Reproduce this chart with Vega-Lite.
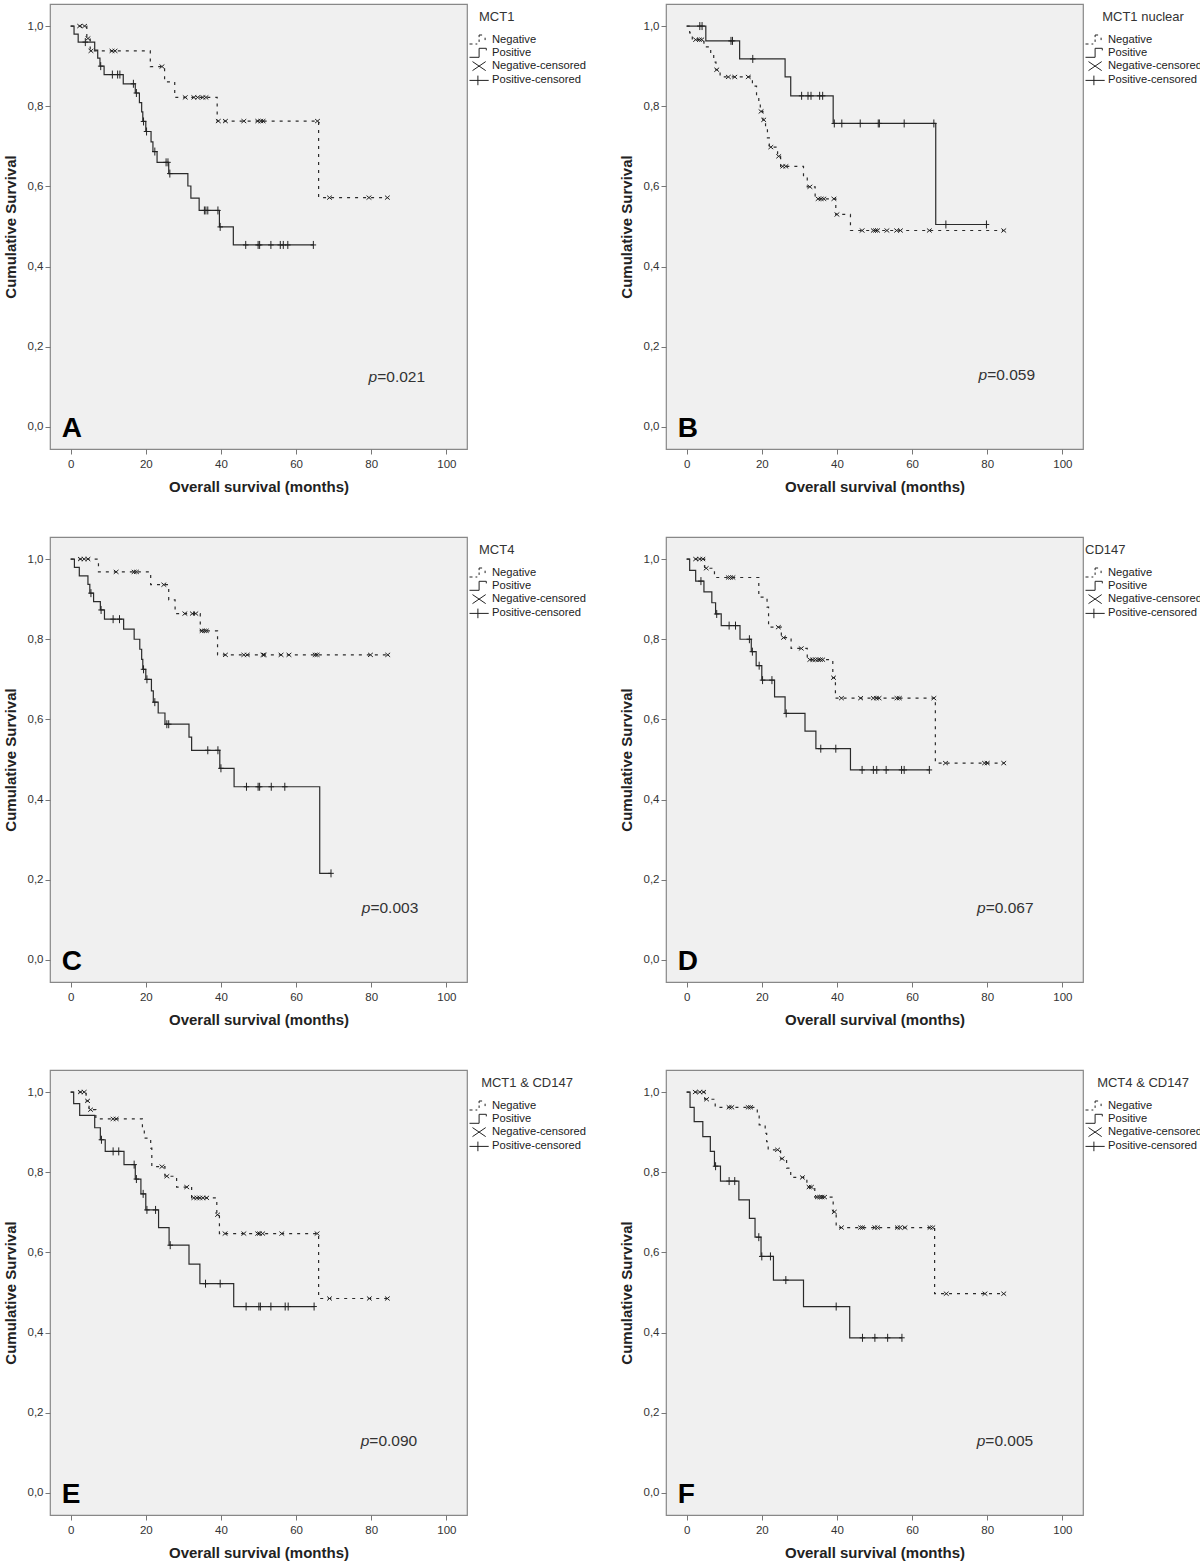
{
"$schema": "https://vega.github.io/schema/vega-lite/v6.json",
"padding": {"left": 2, "top": 3, "right": 0, "bottom": 0},
"background": "#ffffff",
"config": {
 "font": "Liberation Sans",
 "view": {"fill": "#f0f0f0", "stroke": "#888888", "strokeWidth": 1.2},
 "axis": {"grid": false, "domain": false, "ticks": true, "tickSize": 5, "tickColor": "#777777", "labelFontSize": 11.5, "labelColor": "#333333", "labelFont": "Liberation Sans", "titleFont": "Liberation Sans", "titleFontSize": 15, "titleFontWeight": "bold", "titleColor": "#222222"},
 "axisX": {"labelPadding": 4, "titlePadding": 10, "labelFlush": false},
 "axisY": {"labelPadding": 2, "titlePadding": 9},
 "legend": {"orient": "right", "offset": -5, "padding": 7, "titleFontSize": 13, "titleFontWeight": "normal", "titleColor": "#333333", "titlePadding": 9, "labelFontSize": 11.2, "labelColor": "#222222", "labelOffset": 10, "symbolSize": 144, "rowPadding": 0.3, "symbolStrokeWidth": 1}
},
"datasets": {
 "ann": [
  {"p": "A", "lab": "A", "pv": "=0.021"},
  {"p": "B", "lab": "B", "pv": "=0.059"},
  {"p": "C", "lab": "C", "pv": "=0.003"},
  {"p": "D", "lab": "D", "pv": "=0.067"},
  {"p": "E", "lab": "E", "pv": "=0.090"},
  {"p": "F", "lab": "F", "pv": "=0.005"}
 ],
 "km": [
  {"p":"A","g":"Negative","t":0,"s":1,"st":"Negative"},
  {"p":"A","g":"Negative","t":2.4,"s":1,"st":"Negative-censored"},
  {"p":"A","g":"Negative","t":3.7,"s":1,"st":"Negative-censored"},
  {"p":"A","g":"Negative","t":4.3,"s":0.969,"st":"Negative"},
  {"p":"A","g":"Negative","t":4.6,"s":0.969,"st":"Negative-censored"},
  {"p":"A","g":"Negative","t":5.2,"s":0.938,"st":"Negative"},
  {"p":"A","g":"Negative","t":5.4,"s":0.938,"st":"Negative-censored"},
  {"p":"A","g":"Negative","t":11.0,"s":0.938,"st":"Negative-censored"},
  {"p":"A","g":"Negative","t":11.8,"s":0.938,"st":"Negative-censored"},
  {"p":"A","g":"Negative","t":21.2,"s":0.899,"st":"Negative"},
  {"p":"A","g":"Negative","t":24.3,"s":0.899,"st":"Negative-censored"},
  {"p":"A","g":"Negative","t":25.0,"s":0.861,"st":"Negative"},
  {"p":"A","g":"Negative","t":27.7,"s":0.822,"st":"Negative"},
  {"p":"A","g":"Negative","t":30.5,"s":0.822,"st":"Negative-censored"},
  {"p":"A","g":"Negative","t":32.8,"s":0.822,"st":"Negative-censored"},
  {"p":"A","g":"Negative","t":33.8,"s":0.822,"st":"Negative-censored"},
  {"p":"A","g":"Negative","t":35.2,"s":0.822,"st":"Negative-censored"},
  {"p":"A","g":"Negative","t":36.0,"s":0.822,"st":"Negative-censored"},
  {"p":"A","g":"Negative","t":39.0,"s":0.763,"st":"Negative"},
  {"p":"A","g":"Negative","t":39.3,"s":0.763,"st":"Negative-censored"},
  {"p":"A","g":"Negative","t":41.2,"s":0.763,"st":"Negative-censored"},
  {"p":"A","g":"Negative","t":46.1,"s":0.763,"st":"Negative-censored"},
  {"p":"A","g":"Negative","t":49.8,"s":0.763,"st":"Negative-censored"},
  {"p":"A","g":"Negative","t":50.6,"s":0.763,"st":"Negative-censored"},
  {"p":"A","g":"Negative","t":51.2,"s":0.763,"st":"Negative-censored"},
  {"p":"A","g":"Negative","t":65.7,"s":0.763,"st":"Negative-censored"},
  {"p":"A","g":"Negative","t":66.0,"s":0.572,"st":"Negative"},
  {"p":"A","g":"Negative","t":68.9,"s":0.572,"st":"Negative-censored"},
  {"p":"A","g":"Negative","t":79.4,"s":0.572,"st":"Negative-censored"},
  {"p":"A","g":"Negative","t":84.3,"s":0.572,"st":"Negative-censored"},
  {"p":"A","g":"Positive","t":0,"s":1,"st":"Positive"},
  {"p":"A","g":"Positive","t":0.9,"s":0.98,"st":"Positive"},
  {"p":"A","g":"Positive","t":2.0,"s":0.96,"st":"Positive"},
  {"p":"A","g":"Positive","t":3.9,"s":0.96,"st":"Positive-censored"},
  {"p":"A","g":"Positive","t":6.4,"s":0.94,"st":"Positive"},
  {"p":"A","g":"Positive","t":7.2,"s":0.92,"st":"Positive"},
  {"p":"A","g":"Positive","t":7.8,"s":0.9,"st":"Positive"},
  {"p":"A","g":"Positive","t":8.0,"s":0.9,"st":"Positive-censored"},
  {"p":"A","g":"Positive","t":8.9,"s":0.879,"st":"Positive"},
  {"p":"A","g":"Positive","t":11.1,"s":0.879,"st":"Positive-censored"},
  {"p":"A","g":"Positive","t":12.5,"s":0.879,"st":"Positive-censored"},
  {"p":"A","g":"Positive","t":13.1,"s":0.879,"st":"Positive-censored"},
  {"p":"A","g":"Positive","t":14.0,"s":0.856,"st":"Positive"},
  {"p":"A","g":"Positive","t":16.7,"s":0.856,"st":"Positive-censored"},
  {"p":"A","g":"Positive","t":17.2,"s":0.833,"st":"Positive"},
  {"p":"A","g":"Positive","t":17.5,"s":0.833,"st":"Positive-censored"},
  {"p":"A","g":"Positive","t":18.3,"s":0.809,"st":"Positive"},
  {"p":"A","g":"Positive","t":18.9,"s":0.786,"st":"Positive"},
  {"p":"A","g":"Positive","t":19.2,"s":0.762,"st":"Positive"},
  {"p":"A","g":"Positive","t":19.4,"s":0.762,"st":"Positive-censored"},
  {"p":"A","g":"Positive","t":20.0,"s":0.737,"st":"Positive"},
  {"p":"A","g":"Positive","t":20.2,"s":0.737,"st":"Positive-censored"},
  {"p":"A","g":"Positive","t":21.4,"s":0.711,"st":"Positive"},
  {"p":"A","g":"Positive","t":21.9,"s":0.687,"st":"Positive"},
  {"p":"A","g":"Positive","t":22.4,"s":0.687,"st":"Positive-censored"},
  {"p":"A","g":"Positive","t":23.0,"s":0.66,"st":"Positive"},
  {"p":"A","g":"Positive","t":25.4,"s":0.66,"st":"Positive-censored"},
  {"p":"A","g":"Positive","t":25.9,"s":0.66,"st":"Positive-censored"},
  {"p":"A","g":"Positive","t":26.1,"s":0.632,"st":"Positive"},
  {"p":"A","g":"Positive","t":26.4,"s":0.632,"st":"Positive-censored"},
  {"p":"A","g":"Positive","t":31.2,"s":0.601,"st":"Positive"},
  {"p":"A","g":"Positive","t":32.0,"s":0.571,"st":"Positive"},
  {"p":"A","g":"Positive","t":34.2,"s":0.54,"st":"Positive"},
  {"p":"A","g":"Positive","t":35.6,"s":0.54,"st":"Positive-censored"},
  {"p":"A","g":"Positive","t":36.0,"s":0.54,"st":"Positive-censored"},
  {"p":"A","g":"Positive","t":36.5,"s":0.54,"st":"Positive-censored"},
  {"p":"A","g":"Positive","t":39.2,"s":0.54,"st":"Positive-censored"},
  {"p":"A","g":"Positive","t":39.6,"s":0.499,"st":"Positive"},
  {"p":"A","g":"Positive","t":39.8,"s":0.499,"st":"Positive-censored"},
  {"p":"A","g":"Positive","t":43.3,"s":0.454,"st":"Positive"},
  {"p":"A","g":"Positive","t":46.6,"s":0.454,"st":"Positive-censored"},
  {"p":"A","g":"Positive","t":49.9,"s":0.454,"st":"Positive-censored"},
  {"p":"A","g":"Positive","t":50.3,"s":0.454,"st":"Positive-censored"},
  {"p":"A","g":"Positive","t":53.3,"s":0.454,"st":"Positive-censored"},
  {"p":"A","g":"Positive","t":55.8,"s":0.454,"st":"Positive-censored"},
  {"p":"A","g":"Positive","t":56.6,"s":0.454,"st":"Positive-censored"},
  {"p":"A","g":"Positive","t":57.8,"s":0.454,"st":"Positive-censored"},
  {"p":"A","g":"Positive","t":64.6,"s":0.454,"st":"Positive-censored"},

  {"p":"B","g":"Negative","t":0,"s":1,"st":"Negative"},
  {"p":"B","g":"Negative","t":0.8,"s":0.983,"st":"Negative"},
  {"p":"B","g":"Negative","t":1.5,"s":0.966,"st":"Negative"},
  {"p":"B","g":"Negative","t":2.4,"s":0.966,"st":"Negative-censored"},
  {"p":"B","g":"Negative","t":3.4,"s":0.966,"st":"Negative-censored"},
  {"p":"B","g":"Negative","t":4.0,"s":0.966,"st":"Negative-censored"},
  {"p":"B","g":"Negative","t":4.6,"s":0.948,"st":"Negative"},
  {"p":"B","g":"Negative","t":6.4,"s":0.929,"st":"Negative"},
  {"p":"B","g":"Negative","t":7.2,"s":0.91,"st":"Negative"},
  {"p":"B","g":"Negative","t":7.8,"s":0.891,"st":"Negative"},
  {"p":"B","g":"Negative","t":8.0,"s":0.891,"st":"Negative-censored"},
  {"p":"B","g":"Negative","t":8.9,"s":0.873,"st":"Negative"},
  {"p":"B","g":"Negative","t":11.1,"s":0.873,"st":"Negative-censored"},
  {"p":"B","g":"Negative","t":12.8,"s":0.873,"st":"Negative-censored"},
  {"p":"B","g":"Negative","t":16.4,"s":0.873,"st":"Negative-censored"},
  {"p":"B","g":"Negative","t":17.5,"s":0.85,"st":"Negative"},
  {"p":"B","g":"Negative","t":18.6,"s":0.827,"st":"Negative"},
  {"p":"B","g":"Negative","t":19.2,"s":0.808,"st":"Negative"},
  {"p":"B","g":"Negative","t":19.6,"s":0.787,"st":"Negative"},
  {"p":"B","g":"Negative","t":19.8,"s":0.787,"st":"Negative-censored"},
  {"p":"B","g":"Negative","t":20.3,"s":0.766,"st":"Negative"},
  {"p":"B","g":"Negative","t":20.5,"s":0.766,"st":"Negative-censored"},
  {"p":"B","g":"Negative","t":21.0,"s":0.745,"st":"Negative"},
  {"p":"B","g":"Negative","t":21.5,"s":0.721,"st":"Negative"},
  {"p":"B","g":"Negative","t":22.0,"s":0.698,"st":"Negative"},
  {"p":"B","g":"Negative","t":22.4,"s":0.698,"st":"Negative-censored"},
  {"p":"B","g":"Negative","t":24.2,"s":0.675,"st":"Negative"},
  {"p":"B","g":"Negative","t":24.5,"s":0.675,"st":"Negative-censored"},
  {"p":"B","g":"Negative","t":25.0,"s":0.65,"st":"Negative"},
  {"p":"B","g":"Negative","t":25.6,"s":0.65,"st":"Negative-censored"},
  {"p":"B","g":"Negative","t":26.4,"s":0.65,"st":"Negative-censored"},
  {"p":"B","g":"Negative","t":31.1,"s":0.623,"st":"Negative"},
  {"p":"B","g":"Negative","t":32.1,"s":0.599,"st":"Negative"},
  {"p":"B","g":"Negative","t":32.8,"s":0.599,"st":"Negative-censored"},
  {"p":"B","g":"Negative","t":34.2,"s":0.569,"st":"Negative"},
  {"p":"B","g":"Negative","t":35.0,"s":0.569,"st":"Negative-censored"},
  {"p":"B","g":"Negative","t":35.8,"s":0.569,"st":"Negative-censored"},
  {"p":"B","g":"Negative","t":36.5,"s":0.569,"st":"Negative-censored"},
  {"p":"B","g":"Negative","t":39.2,"s":0.569,"st":"Negative-censored"},
  {"p":"B","g":"Negative","t":39.7,"s":0.53,"st":"Negative"},
  {"p":"B","g":"Negative","t":40.0,"s":0.53,"st":"Negative-censored"},
  {"p":"B","g":"Negative","t":43.6,"s":0.49,"st":"Negative"},
  {"p":"B","g":"Negative","t":46.7,"s":0.49,"st":"Negative-censored"},
  {"p":"B","g":"Negative","t":49.7,"s":0.49,"st":"Negative-censored"},
  {"p":"B","g":"Negative","t":50.3,"s":0.49,"st":"Negative-censored"},
  {"p":"B","g":"Negative","t":50.8,"s":0.49,"st":"Negative-censored"},
  {"p":"B","g":"Negative","t":53.3,"s":0.49,"st":"Negative-censored"},
  {"p":"B","g":"Negative","t":55.9,"s":0.49,"st":"Negative-censored"},
  {"p":"B","g":"Negative","t":56.9,"s":0.49,"st":"Negative-censored"},
  {"p":"B","g":"Negative","t":64.6,"s":0.49,"st":"Negative-censored"},
  {"p":"B","g":"Negative","t":84.4,"s":0.49,"st":"Negative-censored"},
  {"p":"B","g":"Positive","t":0,"s":1,"st":"Positive"},
  {"p":"B","g":"Positive","t":3.5,"s":1,"st":"Positive-censored"},
  {"p":"B","g":"Positive","t":4.1,"s":1,"st":"Positive-censored"},
  {"p":"B","g":"Positive","t":5.1,"s":0.963,"st":"Positive"},
  {"p":"B","g":"Positive","t":11.8,"s":0.963,"st":"Positive-censored"},
  {"p":"B","g":"Positive","t":12.2,"s":0.963,"st":"Positive-censored"},
  {"p":"B","g":"Positive","t":14.1,"s":0.918,"st":"Positive"},
  {"p":"B","g":"Positive","t":17.6,"s":0.918,"st":"Positive-censored"},
  {"p":"B","g":"Positive","t":26.2,"s":0.873,"st":"Positive"},
  {"p":"B","g":"Positive","t":27.7,"s":0.826,"st":"Positive"},
  {"p":"B","g":"Positive","t":30.6,"s":0.826,"st":"Positive-censored"},
  {"p":"B","g":"Positive","t":32.3,"s":0.826,"st":"Positive-censored"},
  {"p":"B","g":"Positive","t":33.1,"s":0.826,"st":"Positive-censored"},
  {"p":"B","g":"Positive","t":35.4,"s":0.826,"st":"Positive-censored"},
  {"p":"B","g":"Positive","t":36.2,"s":0.826,"st":"Positive-censored"},
  {"p":"B","g":"Positive","t":39.0,"s":0.757,"st":"Positive"},
  {"p":"B","g":"Positive","t":39.3,"s":0.757,"st":"Positive-censored"},
  {"p":"B","g":"Positive","t":41.3,"s":0.757,"st":"Positive-censored"},
  {"p":"B","g":"Positive","t":46.2,"s":0.757,"st":"Positive-censored"},
  {"p":"B","g":"Positive","t":51.0,"s":0.757,"st":"Positive-censored"},
  {"p":"B","g":"Positive","t":51.3,"s":0.757,"st":"Positive-censored"},
  {"p":"B","g":"Positive","t":57.9,"s":0.757,"st":"Positive-censored"},
  {"p":"B","g":"Positive","t":65.8,"s":0.757,"st":"Positive-censored"},
  {"p":"B","g":"Positive","t":66.3,"s":0.505,"st":"Positive"},
  {"p":"B","g":"Positive","t":69.0,"s":0.505,"st":"Positive-censored"},
  {"p":"B","g":"Positive","t":79.8,"s":0.505,"st":"Positive-censored"},

  {"p":"C","g":"Negative","t":0,"s":1,"st":"Negative"},
  {"p":"C","g":"Negative","t":2.6,"s":1,"st":"Negative-censored"},
  {"p":"C","g":"Negative","t":3.6,"s":1,"st":"Negative-censored"},
  {"p":"C","g":"Negative","t":4.6,"s":1,"st":"Negative-censored"},
  {"p":"C","g":"Negative","t":7.4,"s":0.968,"st":"Negative"},
  {"p":"C","g":"Negative","t":12.1,"s":0.968,"st":"Negative-censored"},
  {"p":"C","g":"Negative","t":16.9,"s":0.968,"st":"Negative-censored"},
  {"p":"C","g":"Negative","t":17.5,"s":0.968,"st":"Negative-censored"},
  {"p":"C","g":"Negative","t":21.3,"s":0.936,"st":"Negative"},
  {"p":"C","g":"Negative","t":24.8,"s":0.936,"st":"Negative-censored"},
  {"p":"C","g":"Negative","t":26.1,"s":0.898,"st":"Negative"},
  {"p":"C","g":"Negative","t":27.8,"s":0.864,"st":"Negative"},
  {"p":"C","g":"Negative","t":30.4,"s":0.864,"st":"Negative-censored"},
  {"p":"C","g":"Negative","t":32.4,"s":0.864,"st":"Negative-censored"},
  {"p":"C","g":"Negative","t":33.3,"s":0.864,"st":"Negative-censored"},
  {"p":"C","g":"Negative","t":34.5,"s":0.821,"st":"Negative"},
  {"p":"C","g":"Negative","t":35.0,"s":0.821,"st":"Negative-censored"},
  {"p":"C","g":"Negative","t":35.6,"s":0.821,"st":"Negative-censored"},
  {"p":"C","g":"Negative","t":36.1,"s":0.821,"st":"Negative-censored"},
  {"p":"C","g":"Negative","t":39.1,"s":0.761,"st":"Negative"},
  {"p":"C","g":"Negative","t":41.2,"s":0.761,"st":"Negative-censored"},
  {"p":"C","g":"Negative","t":46.1,"s":0.761,"st":"Negative-censored"},
  {"p":"C","g":"Negative","t":47.0,"s":0.761,"st":"Negative-censored"},
  {"p":"C","g":"Negative","t":51.2,"s":0.761,"st":"Negative-censored"},
  {"p":"C","g":"Negative","t":51.5,"s":0.761,"st":"Negative-censored"},
  {"p":"C","g":"Negative","t":56.0,"s":0.761,"st":"Negative-censored"},
  {"p":"C","g":"Negative","t":58.1,"s":0.761,"st":"Negative-censored"},
  {"p":"C","g":"Negative","t":65.1,"s":0.761,"st":"Negative-censored"},
  {"p":"C","g":"Negative","t":65.6,"s":0.761,"st":"Negative-censored"},
  {"p":"C","g":"Negative","t":79.8,"s":0.761,"st":"Negative-censored"},
  {"p":"C","g":"Negative","t":84.4,"s":0.761,"st":"Negative-censored"},
  {"p":"C","g":"Positive","t":0,"s":1,"st":"Positive"},
  {"p":"C","g":"Positive","t":1.0,"s":0.979,"st":"Positive"},
  {"p":"C","g":"Positive","t":2.3,"s":0.958,"st":"Positive"},
  {"p":"C","g":"Positive","t":4.6,"s":0.937,"st":"Positive"},
  {"p":"C","g":"Positive","t":5.1,"s":0.915,"st":"Positive"},
  {"p":"C","g":"Positive","t":5.4,"s":0.915,"st":"Positive-censored"},
  {"p":"C","g":"Positive","t":6.1,"s":0.894,"st":"Positive"},
  {"p":"C","g":"Positive","t":7.9,"s":0.873,"st":"Positive"},
  {"p":"C","g":"Positive","t":8.1,"s":0.873,"st":"Positive-censored"},
  {"p":"C","g":"Positive","t":9.0,"s":0.85,"st":"Positive"},
  {"p":"C","g":"Positive","t":11.3,"s":0.85,"st":"Positive-censored"},
  {"p":"C","g":"Positive","t":13.0,"s":0.85,"st":"Positive-censored"},
  {"p":"C","g":"Positive","t":14.1,"s":0.825,"st":"Positive"},
  {"p":"C","g":"Positive","t":16.9,"s":0.8,"st":"Positive"},
  {"p":"C","g":"Positive","t":18.4,"s":0.775,"st":"Positive"},
  {"p":"C","g":"Positive","t":18.9,"s":0.75,"st":"Positive"},
  {"p":"C","g":"Positive","t":19.2,"s":0.725,"st":"Positive"},
  {"p":"C","g":"Positive","t":19.4,"s":0.725,"st":"Positive-censored"},
  {"p":"C","g":"Positive","t":20.0,"s":0.7,"st":"Positive"},
  {"p":"C","g":"Positive","t":20.3,"s":0.7,"st":"Positive-censored"},
  {"p":"C","g":"Positive","t":21.5,"s":0.671,"st":"Positive"},
  {"p":"C","g":"Positive","t":22.0,"s":0.643,"st":"Positive"},
  {"p":"C","g":"Positive","t":22.4,"s":0.643,"st":"Positive-censored"},
  {"p":"C","g":"Positive","t":23.3,"s":0.616,"st":"Positive"},
  {"p":"C","g":"Positive","t":25.1,"s":0.588,"st":"Positive"},
  {"p":"C","g":"Positive","t":25.6,"s":0.588,"st":"Positive-censored"},
  {"p":"C","g":"Positive","t":26.1,"s":0.588,"st":"Positive-censored"},
  {"p":"C","g":"Positive","t":31.5,"s":0.556,"st":"Positive"},
  {"p":"C","g":"Positive","t":32.2,"s":0.523,"st":"Positive"},
  {"p":"C","g":"Positive","t":36.5,"s":0.523,"st":"Positive-censored"},
  {"p":"C","g":"Positive","t":39.2,"s":0.523,"st":"Positive-censored"},
  {"p":"C","g":"Positive","t":39.7,"s":0.478,"st":"Positive"},
  {"p":"C","g":"Positive","t":40.0,"s":0.478,"st":"Positive-censored"},
  {"p":"C","g":"Positive","t":43.5,"s":0.432,"st":"Positive"},
  {"p":"C","g":"Positive","t":46.8,"s":0.432,"st":"Positive-censored"},
  {"p":"C","g":"Positive","t":49.9,"s":0.432,"st":"Positive-censored"},
  {"p":"C","g":"Positive","t":50.3,"s":0.432,"st":"Positive-censored"},
  {"p":"C","g":"Positive","t":53.4,"s":0.432,"st":"Positive-censored"},
  {"p":"C","g":"Positive","t":57.0,"s":0.432,"st":"Positive-censored"},
  {"p":"C","g":"Positive","t":66.3,"s":0.216,"st":"Positive"},
  {"p":"C","g":"Positive","t":69.3,"s":0.216,"st":"Positive-censored"},

  {"p":"D","g":"Negative","t":0,"s":1,"st":"Negative"},
  {"p":"D","g":"Negative","t":2.4,"s":1,"st":"Negative-censored"},
  {"p":"D","g":"Negative","t":3.5,"s":1,"st":"Negative-censored"},
  {"p":"D","g":"Negative","t":4.3,"s":1,"st":"Negative-censored"},
  {"p":"D","g":"Negative","t":4.8,"s":0.977,"st":"Negative"},
  {"p":"D","g":"Negative","t":5.2,"s":0.977,"st":"Negative-censored"},
  {"p":"D","g":"Negative","t":7.4,"s":0.954,"st":"Negative"},
  {"p":"D","g":"Negative","t":11.1,"s":0.954,"st":"Negative-censored"},
  {"p":"D","g":"Negative","t":11.7,"s":0.954,"st":"Negative-censored"},
  {"p":"D","g":"Negative","t":12.3,"s":0.954,"st":"Negative-censored"},
  {"p":"D","g":"Negative","t":19.2,"s":0.905,"st":"Negative"},
  {"p":"D","g":"Negative","t":21.4,"s":0.88,"st":"Negative"},
  {"p":"D","g":"Negative","t":21.8,"s":0.83,"st":"Negative"},
  {"p":"D","g":"Negative","t":24.4,"s":0.83,"st":"Negative-censored"},
  {"p":"D","g":"Negative","t":25.2,"s":0.804,"st":"Negative"},
  {"p":"D","g":"Negative","t":25.8,"s":0.804,"st":"Negative-censored"},
  {"p":"D","g":"Negative","t":27.8,"s":0.777,"st":"Negative"},
  {"p":"D","g":"Negative","t":30.5,"s":0.777,"st":"Negative-censored"},
  {"p":"D","g":"Negative","t":32.1,"s":0.749,"st":"Negative"},
  {"p":"D","g":"Negative","t":32.8,"s":0.749,"st":"Negative-censored"},
  {"p":"D","g":"Negative","t":33.6,"s":0.749,"st":"Negative-censored"},
  {"p":"D","g":"Negative","t":34.3,"s":0.749,"st":"Negative-censored"},
  {"p":"D","g":"Negative","t":35.0,"s":0.749,"st":"Negative-censored"},
  {"p":"D","g":"Negative","t":35.6,"s":0.749,"st":"Negative-censored"},
  {"p":"D","g":"Negative","t":36.2,"s":0.749,"st":"Negative-censored"},
  {"p":"D","g":"Negative","t":38.9,"s":0.704,"st":"Negative"},
  {"p":"D","g":"Negative","t":39.1,"s":0.704,"st":"Negative-censored"},
  {"p":"D","g":"Negative","t":39.6,"s":0.653,"st":"Negative"},
  {"p":"D","g":"Negative","t":41.2,"s":0.653,"st":"Negative-censored"},
  {"p":"D","g":"Negative","t":46.3,"s":0.653,"st":"Negative-censored"},
  {"p":"D","g":"Negative","t":49.7,"s":0.653,"st":"Negative-censored"},
  {"p":"D","g":"Negative","t":50.5,"s":0.653,"st":"Negative-censored"},
  {"p":"D","g":"Negative","t":51.2,"s":0.653,"st":"Negative-censored"},
  {"p":"D","g":"Negative","t":56.0,"s":0.653,"st":"Negative-censored"},
  {"p":"D","g":"Negative","t":56.6,"s":0.653,"st":"Negative-censored"},
  {"p":"D","g":"Negative","t":65.8,"s":0.653,"st":"Negative-censored"},
  {"p":"D","g":"Negative","t":66.2,"s":0.491,"st":"Negative"},
  {"p":"D","g":"Negative","t":68.9,"s":0.491,"st":"Negative-censored"},
  {"p":"D","g":"Negative","t":79.3,"s":0.491,"st":"Negative-censored"},
  {"p":"D","g":"Negative","t":80.0,"s":0.491,"st":"Negative-censored"},
  {"p":"D","g":"Negative","t":84.4,"s":0.491,"st":"Negative-censored"},
  {"p":"D","g":"Positive","t":0,"s":1,"st":"Positive"},
  {"p":"D","g":"Positive","t":0.8,"s":0.972,"st":"Positive"},
  {"p":"D","g":"Positive","t":2.4,"s":0.945,"st":"Positive"},
  {"p":"D","g":"Positive","t":3.8,"s":0.945,"st":"Positive-censored"},
  {"p":"D","g":"Positive","t":4.6,"s":0.918,"st":"Positive"},
  {"p":"D","g":"Positive","t":6.7,"s":0.891,"st":"Positive"},
  {"p":"D","g":"Positive","t":7.7,"s":0.863,"st":"Positive"},
  {"p":"D","g":"Positive","t":8.0,"s":0.863,"st":"Positive-censored"},
  {"p":"D","g":"Positive","t":9.2,"s":0.834,"st":"Positive"},
  {"p":"D","g":"Positive","t":11.3,"s":0.834,"st":"Positive-censored"},
  {"p":"D","g":"Positive","t":13.0,"s":0.834,"st":"Positive-censored"},
  {"p":"D","g":"Positive","t":14.2,"s":0.8,"st":"Positive"},
  {"p":"D","g":"Positive","t":16.7,"s":0.8,"st":"Positive-censored"},
  {"p":"D","g":"Positive","t":17.2,"s":0.769,"st":"Positive"},
  {"p":"D","g":"Positive","t":17.5,"s":0.769,"st":"Positive-censored"},
  {"p":"D","g":"Positive","t":18.5,"s":0.734,"st":"Positive"},
  {"p":"D","g":"Positive","t":19.3,"s":0.734,"st":"Positive-censored"},
  {"p":"D","g":"Positive","t":20.0,"s":0.698,"st":"Positive"},
  {"p":"D","g":"Positive","t":20.2,"s":0.698,"st":"Positive-censored"},
  {"p":"D","g":"Positive","t":22.7,"s":0.698,"st":"Positive-censored"},
  {"p":"D","g":"Positive","t":23.4,"s":0.656,"st":"Positive"},
  {"p":"D","g":"Positive","t":26.2,"s":0.615,"st":"Positive"},
  {"p":"D","g":"Positive","t":26.5,"s":0.615,"st":"Positive-censored"},
  {"p":"D","g":"Positive","t":31.5,"s":0.571,"st":"Positive"},
  {"p":"D","g":"Positive","t":34.4,"s":0.527,"st":"Positive"},
  {"p":"D","g":"Positive","t":35.7,"s":0.527,"st":"Positive-censored"},
  {"p":"D","g":"Positive","t":39.7,"s":0.527,"st":"Positive-censored"},
  {"p":"D","g":"Positive","t":43.6,"s":0.474,"st":"Positive"},
  {"p":"D","g":"Positive","t":46.7,"s":0.474,"st":"Positive-censored"},
  {"p":"D","g":"Positive","t":49.7,"s":0.474,"st":"Positive-censored"},
  {"p":"D","g":"Positive","t":50.6,"s":0.474,"st":"Positive-censored"},
  {"p":"D","g":"Positive","t":53.1,"s":0.474,"st":"Positive-censored"},
  {"p":"D","g":"Positive","t":57.2,"s":0.474,"st":"Positive-censored"},
  {"p":"D","g":"Positive","t":57.9,"s":0.474,"st":"Positive-censored"},
  {"p":"D","g":"Positive","t":64.6,"s":0.474,"st":"Positive-censored"},

  {"p":"E","g":"Negative","t":0,"s":1,"st":"Negative"},
  {"p":"E","g":"Negative","t":2.6,"s":1,"st":"Negative-censored"},
  {"p":"E","g":"Negative","t":3.6,"s":1,"st":"Negative-censored"},
  {"p":"E","g":"Negative","t":4.1,"s":0.978,"st":"Negative"},
  {"p":"E","g":"Negative","t":4.5,"s":0.978,"st":"Negative-censored"},
  {"p":"E","g":"Negative","t":4.9,"s":0.956,"st":"Negative"},
  {"p":"E","g":"Negative","t":5.3,"s":0.956,"st":"Negative-censored"},
  {"p":"E","g":"Negative","t":6.7,"s":0.933,"st":"Negative"},
  {"p":"E","g":"Negative","t":11.3,"s":0.933,"st":"Negative-censored"},
  {"p":"E","g":"Negative","t":12.1,"s":0.933,"st":"Negative-censored"},
  {"p":"E","g":"Negative","t":19.1,"s":0.909,"st":"Negative"},
  {"p":"E","g":"Negative","t":19.6,"s":0.885,"st":"Negative"},
  {"p":"E","g":"Negative","t":21.3,"s":0.86,"st":"Negative"},
  {"p":"E","g":"Negative","t":21.6,"s":0.814,"st":"Negative"},
  {"p":"E","g":"Negative","t":24.3,"s":0.814,"st":"Negative-censored"},
  {"p":"E","g":"Negative","t":25.1,"s":0.79,"st":"Negative"},
  {"p":"E","g":"Negative","t":25.6,"s":0.79,"st":"Negative-censored"},
  {"p":"E","g":"Negative","t":28.2,"s":0.763,"st":"Negative"},
  {"p":"E","g":"Negative","t":30.9,"s":0.763,"st":"Negative-censored"},
  {"p":"E","g":"Negative","t":32.2,"s":0.736,"st":"Negative"},
  {"p":"E","g":"Negative","t":32.8,"s":0.736,"st":"Negative-censored"},
  {"p":"E","g":"Negative","t":33.6,"s":0.736,"st":"Negative-censored"},
  {"p":"E","g":"Negative","t":34.4,"s":0.736,"st":"Negative-censored"},
  {"p":"E","g":"Negative","t":35.2,"s":0.736,"st":"Negative-censored"},
  {"p":"E","g":"Negative","t":36.2,"s":0.736,"st":"Negative-censored"},
  {"p":"E","g":"Negative","t":38.9,"s":0.694,"st":"Negative"},
  {"p":"E","g":"Negative","t":39.1,"s":0.694,"st":"Negative-censored"},
  {"p":"E","g":"Negative","t":39.6,"s":0.647,"st":"Negative"},
  {"p":"E","g":"Negative","t":41.1,"s":0.647,"st":"Negative-censored"},
  {"p":"E","g":"Negative","t":46.1,"s":0.647,"st":"Negative-censored"},
  {"p":"E","g":"Negative","t":49.8,"s":0.647,"st":"Negative-censored"},
  {"p":"E","g":"Negative","t":50.3,"s":0.647,"st":"Negative-censored"},
  {"p":"E","g":"Negative","t":51.1,"s":0.647,"st":"Negative-censored"},
  {"p":"E","g":"Negative","t":56.2,"s":0.647,"st":"Negative-censored"},
  {"p":"E","g":"Negative","t":65.6,"s":0.647,"st":"Negative-censored"},
  {"p":"E","g":"Negative","t":66.0,"s":0.485,"st":"Negative"},
  {"p":"E","g":"Negative","t":68.9,"s":0.485,"st":"Negative-censored"},
  {"p":"E","g":"Negative","t":79.5,"s":0.485,"st":"Negative-censored"},
  {"p":"E","g":"Negative","t":84.3,"s":0.485,"st":"Negative-censored"},
  {"p":"E","g":"Positive","t":0,"s":1,"st":"Positive"},
  {"p":"E","g":"Positive","t":0.8,"s":0.971,"st":"Positive"},
  {"p":"E","g":"Positive","t":2.4,"s":0.942,"st":"Positive"},
  {"p":"E","g":"Positive","t":6.4,"s":0.911,"st":"Positive"},
  {"p":"E","g":"Positive","t":7.9,"s":0.881,"st":"Positive"},
  {"p":"E","g":"Positive","t":8.2,"s":0.881,"st":"Positive-censored"},
  {"p":"E","g":"Positive","t":9.2,"s":0.852,"st":"Positive"},
  {"p":"E","g":"Positive","t":11.3,"s":0.852,"st":"Positive-censored"},
  {"p":"E","g":"Positive","t":12.8,"s":0.852,"st":"Positive-censored"},
  {"p":"E","g":"Positive","t":14.2,"s":0.819,"st":"Positive"},
  {"p":"E","g":"Positive","t":16.9,"s":0.819,"st":"Positive-censored"},
  {"p":"E","g":"Positive","t":17.2,"s":0.783,"st":"Positive"},
  {"p":"E","g":"Positive","t":17.5,"s":0.783,"st":"Positive-censored"},
  {"p":"E","g":"Positive","t":18.7,"s":0.746,"st":"Positive"},
  {"p":"E","g":"Positive","t":19.3,"s":0.746,"st":"Positive-censored"},
  {"p":"E","g":"Positive","t":20.0,"s":0.706,"st":"Positive"},
  {"p":"E","g":"Positive","t":20.3,"s":0.706,"st":"Positive-censored"},
  {"p":"E","g":"Positive","t":22.6,"s":0.706,"st":"Positive-censored"},
  {"p":"E","g":"Positive","t":23.4,"s":0.662,"st":"Positive"},
  {"p":"E","g":"Positive","t":26.2,"s":0.618,"st":"Positive"},
  {"p":"E","g":"Positive","t":26.5,"s":0.618,"st":"Positive-censored"},
  {"p":"E","g":"Positive","t":31.5,"s":0.571,"st":"Positive"},
  {"p":"E","g":"Positive","t":34.4,"s":0.522,"st":"Positive"},
  {"p":"E","g":"Positive","t":35.9,"s":0.522,"st":"Positive-censored"},
  {"p":"E","g":"Positive","t":39.8,"s":0.522,"st":"Positive-censored"},
  {"p":"E","g":"Positive","t":43.4,"s":0.465,"st":"Positive"},
  {"p":"E","g":"Positive","t":46.7,"s":0.465,"st":"Positive-censored"},
  {"p":"E","g":"Positive","t":50.1,"s":0.465,"st":"Positive-censored"},
  {"p":"E","g":"Positive","t":50.5,"s":0.465,"st":"Positive-censored"},
  {"p":"E","g":"Positive","t":53.3,"s":0.465,"st":"Positive-censored"},
  {"p":"E","g":"Positive","t":57.1,"s":0.465,"st":"Positive-censored"},
  {"p":"E","g":"Positive","t":57.9,"s":0.465,"st":"Positive-censored"},
  {"p":"E","g":"Positive","t":64.8,"s":0.465,"st":"Positive-censored"},

  {"p":"F","g":"Negative","t":0,"s":1,"st":"Negative"},
  {"p":"F","g":"Negative","t":2.3,"s":1,"st":"Negative-censored"},
  {"p":"F","g":"Negative","t":3.5,"s":1,"st":"Negative-censored"},
  {"p":"F","g":"Negative","t":4.5,"s":1,"st":"Negative-censored"},
  {"p":"F","g":"Negative","t":4.8,"s":0.982,"st":"Negative"},
  {"p":"F","g":"Negative","t":5.3,"s":0.982,"st":"Negative-censored"},
  {"p":"F","g":"Negative","t":7.6,"s":0.962,"st":"Negative"},
  {"p":"F","g":"Negative","t":11.3,"s":0.962,"st":"Negative-censored"},
  {"p":"F","g":"Negative","t":12.0,"s":0.962,"st":"Negative-censored"},
  {"p":"F","g":"Negative","t":16.4,"s":0.962,"st":"Negative-censored"},
  {"p":"F","g":"Negative","t":17.0,"s":0.962,"st":"Negative-censored"},
  {"p":"F","g":"Negative","t":18.8,"s":0.94,"st":"Negative"},
  {"p":"F","g":"Negative","t":19.3,"s":0.918,"st":"Negative"},
  {"p":"F","g":"Negative","t":20.9,"s":0.897,"st":"Negative"},
  {"p":"F","g":"Negative","t":21.3,"s":0.876,"st":"Negative"},
  {"p":"F","g":"Negative","t":21.7,"s":0.856,"st":"Negative"},
  {"p":"F","g":"Negative","t":24.2,"s":0.856,"st":"Negative-censored"},
  {"p":"F","g":"Negative","t":25.0,"s":0.834,"st":"Negative"},
  {"p":"F","g":"Negative","t":25.4,"s":0.834,"st":"Negative-censored"},
  {"p":"F","g":"Negative","t":26.6,"s":0.81,"st":"Negative"},
  {"p":"F","g":"Negative","t":27.7,"s":0.787,"st":"Negative"},
  {"p":"F","g":"Negative","t":30.8,"s":0.787,"st":"Negative-censored"},
  {"p":"F","g":"Negative","t":32.0,"s":0.763,"st":"Negative"},
  {"p":"F","g":"Negative","t":32.6,"s":0.763,"st":"Negative-censored"},
  {"p":"F","g":"Negative","t":33.2,"s":0.763,"st":"Negative-censored"},
  {"p":"F","g":"Negative","t":34.1,"s":0.738,"st":"Negative"},
  {"p":"F","g":"Negative","t":34.8,"s":0.738,"st":"Negative-censored"},
  {"p":"F","g":"Negative","t":35.4,"s":0.738,"st":"Negative-censored"},
  {"p":"F","g":"Negative","t":36.0,"s":0.738,"st":"Negative-censored"},
  {"p":"F","g":"Negative","t":36.7,"s":0.738,"st":"Negative-censored"},
  {"p":"F","g":"Negative","t":39.0,"s":0.701,"st":"Negative"},
  {"p":"F","g":"Negative","t":39.3,"s":0.701,"st":"Negative-censored"},
  {"p":"F","g":"Negative","t":39.8,"s":0.662,"st":"Negative"},
  {"p":"F","g":"Negative","t":41.2,"s":0.662,"st":"Negative-censored"},
  {"p":"F","g":"Negative","t":46.3,"s":0.662,"st":"Negative-censored"},
  {"p":"F","g":"Negative","t":46.8,"s":0.662,"st":"Negative-censored"},
  {"p":"F","g":"Negative","t":50.1,"s":0.662,"st":"Negative-censored"},
  {"p":"F","g":"Negative","t":50.8,"s":0.662,"st":"Negative-censored"},
  {"p":"F","g":"Negative","t":56.1,"s":0.662,"st":"Negative-censored"},
  {"p":"F","g":"Negative","t":56.8,"s":0.662,"st":"Negative-censored"},
  {"p":"F","g":"Negative","t":58.1,"s":0.662,"st":"Negative-censored"},
  {"p":"F","g":"Negative","t":64.8,"s":0.662,"st":"Negative-censored"},
  {"p":"F","g":"Negative","t":65.5,"s":0.662,"st":"Negative-censored"},
  {"p":"F","g":"Negative","t":66.0,"s":0.497,"st":"Negative"},
  {"p":"F","g":"Negative","t":69.1,"s":0.497,"st":"Negative-censored"},
  {"p":"F","g":"Negative","t":79.4,"s":0.497,"st":"Negative-censored"},
  {"p":"F","g":"Negative","t":84.4,"s":0.497,"st":"Negative-censored"},
  {"p":"F","g":"Positive","t":0,"s":1,"st":"Positive"},
  {"p":"F","g":"Positive","t":0.9,"s":0.962,"st":"Positive"},
  {"p":"F","g":"Positive","t":2.0,"s":0.926,"st":"Positive"},
  {"p":"F","g":"Positive","t":4.3,"s":0.889,"st":"Positive"},
  {"p":"F","g":"Positive","t":6.3,"s":0.852,"st":"Positive"},
  {"p":"F","g":"Positive","t":7.4,"s":0.815,"st":"Positive"},
  {"p":"F","g":"Positive","t":7.7,"s":0.815,"st":"Positive-censored"},
  {"p":"F","g":"Positive","t":9.0,"s":0.778,"st":"Positive"},
  {"p":"F","g":"Positive","t":11.3,"s":0.778,"st":"Positive-censored"},
  {"p":"F","g":"Positive","t":12.8,"s":0.778,"st":"Positive-censored"},
  {"p":"F","g":"Positive","t":13.9,"s":0.731,"st":"Positive"},
  {"p":"F","g":"Positive","t":16.7,"s":0.685,"st":"Positive"},
  {"p":"F","g":"Positive","t":18.2,"s":0.638,"st":"Positive"},
  {"p":"F","g":"Positive","t":19.2,"s":0.638,"st":"Positive-censored"},
  {"p":"F","g":"Positive","t":19.8,"s":0.59,"st":"Positive"},
  {"p":"F","g":"Positive","t":20.0,"s":0.59,"st":"Positive-censored"},
  {"p":"F","g":"Positive","t":22.3,"s":0.59,"st":"Positive-censored"},
  {"p":"F","g":"Positive","t":23.1,"s":0.531,"st":"Positive"},
  {"p":"F","g":"Positive","t":26.4,"s":0.531,"st":"Positive-censored"},
  {"p":"F","g":"Positive","t":31.1,"s":0.465,"st":"Positive"},
  {"p":"F","g":"Positive","t":39.8,"s":0.465,"st":"Positive-censored"},
  {"p":"F","g":"Positive","t":43.4,"s":0.387,"st":"Positive"},
  {"p":"F","g":"Positive","t":46.8,"s":0.387,"st":"Positive-censored"},
  {"p":"F","g":"Positive","t":50.1,"s":0.387,"st":"Positive-censored"},
  {"p":"F","g":"Positive","t":53.5,"s":0.387,"st":"Positive-censored"},
  {"p":"F","g":"Positive","t":57.3,"s":0.387,"st":"Positive-censored"}
 ]
},
"columns": 2,
"spacing": {"row": 88, "column": 199},
"bounds": "flush",
"resolve": {"scale": {"shape": "independent", "strokeDash": "independent", "x": "independent", "y": "independent"}, "legend": {"shape": "independent", "strokeDash": "independent"}},
"concat": [
  {"width": 417, "height": 445, "resolve": {"scale": {"shape": "independent"}, "legend": {"shape": "independent"}}, "layer": [
   {"data": {"name": "km"}, "transform": [{"filter": "datum.p === 'A'"}], "mark": {"type": "line", "interpolate": "step-after", "color": "#2b2b2b", "strokeWidth": 1.2},
    "encoding": {"x": {"field": "t", "type": "quantitative", "scale": {"domain": [-5.5, 105.5], "nice": false, "zero": false}, "axis": {"values": [0,20,40,60,80,100], "title": "Overall survival (months)"}},
     "y": {"field": "s", "type": "quantitative", "scale": {"domain": [-0.055, 1.055], "nice": false, "zero": false}, "axis": {"values": [0,0.2,0.4,0.6,0.8,1], "labelExpr": "replace(format(datum.value, '.1f'), '.', ',')", "title": "Cumulative Survival"}},
     "strokeDash": {"field": "g", "type": "nominal", "scale": {"domain": ["Negative","Positive"], "range": [[3,5],[1,0]]}, "legend": null}}},
   {"data": {"name": "km"}, "transform": [{"filter": "datum.p === 'A' && datum.st !== datum.g"}], "mark": {"type": "point", "filled": false, "size": 64, "strokeWidth": 1, "color": "#222222", "opacity": 1},
    "encoding": {"x": {"field": "t", "type": "quantitative"}, "y": {"field": "s", "type": "quantitative"},
     "shape": {"field": "st", "type": "nominal", "scale": {"domain": ["Negative-censored","Positive-censored"], "range": ["M-0.6,-0.5L0.6,0.5M-0.6,0.5L0.6,-0.5", "M-0.7,0H0.7M0,-1V1"]}, "legend": null}}},
   {"data": {"name": "km"}, "transform": [{"filter": "datum.p === 'none'"}], "mark": {"type": "point", "filled": false, "size": 144, "strokeWidth": 1, "color": "#222222", "opacity": 1},
    "encoding": {"x": {"field": "t", "type": "quantitative"}, "y": {"field": "s", "type": "quantitative"},
     "shape": {"field": "st", "type": "nominal", "scale": {"domain": ["Negative","Positive","Negative-censored","Positive-censored"], "range": ["M-1,0.75H-0.5M0,0.75H0.3M0.6,0.4V0M0.6,-0.4V-0.75H1.1M1.6,-0.3V0.1", "M-1,0.75H0.6V-0.75H1.8V-0.4", "M-0.5,-0.75L1.7,0.75M-0.5,0.75L1.7,-0.75", "M-1,0H2.2M0.4,-0.8V0.8"]},
      "legend": {"title": "\u2800MCT1", "titleAnchor": "start"}}}},
   {"data": {"name": "ann"}, "transform": [{"filter": "datum.p === 'A'"}], "mark": {"type": "text", "align": "left", "baseline": "alphabetic", "fontSize": 28, "fontWeight": "bold", "color": "#000000"}, "encoding": {"x": {"datum": -2.4}, "y": {"datum": -0.025}, "text": {"field": "lab"}}},
   {"data": {"name": "ann"}, "transform": [{"filter": "datum.p === 'A'"}], "mark": {"type": "text", "align": "left", "baseline": "alphabetic", "fontSize": 15.5, "fontStyle": "italic", "color": "#333333", "text": "p"}, "encoding": {"x": {"datum": 79.3}, "y": {"datum": 0.112}}},
   {"data": {"name": "ann"}, "transform": [{"filter": "datum.p === 'A'"}], "mark": {"type": "text", "align": "left", "baseline": "alphabetic", "fontSize": 15.5, "color": "#333333"}, "encoding": {"x": {"datum": 81.6}, "y": {"datum": 0.112}, "text": {"field": "pv"}}}
  ]},
  {"width": 417, "height": 445, "resolve": {"scale": {"shape": "independent"}, "legend": {"shape": "independent"}}, "layer": [
   {"data": {"name": "km"}, "transform": [{"filter": "datum.p === 'B'"}], "mark": {"type": "line", "interpolate": "step-after", "color": "#2b2b2b", "strokeWidth": 1.2},
    "encoding": {"x": {"field": "t", "type": "quantitative", "scale": {"domain": [-5.5, 105.5], "nice": false, "zero": false}, "axis": {"values": [0,20,40,60,80,100], "title": "Overall survival (months)"}},
     "y": {"field": "s", "type": "quantitative", "scale": {"domain": [-0.055, 1.055], "nice": false, "zero": false}, "axis": {"values": [0,0.2,0.4,0.6,0.8,1], "labelExpr": "replace(format(datum.value, '.1f'), '.', ',')", "title": "Cumulative Survival"}},
     "strokeDash": {"field": "g", "type": "nominal", "scale": {"domain": ["Negative","Positive"], "range": [[3,5],[1,0]]}, "legend": null}}},
   {"data": {"name": "km"}, "transform": [{"filter": "datum.p === 'B' && datum.st !== datum.g"}], "mark": {"type": "point", "filled": false, "size": 64, "strokeWidth": 1, "color": "#222222", "opacity": 1},
    "encoding": {"x": {"field": "t", "type": "quantitative"}, "y": {"field": "s", "type": "quantitative"},
     "shape": {"field": "st", "type": "nominal", "scale": {"domain": ["Negative-censored","Positive-censored"], "range": ["M-0.6,-0.5L0.6,0.5M-0.6,0.5L0.6,-0.5", "M-0.7,0H0.7M0,-1V1"]}, "legend": null}}},
   {"data": {"name": "km"}, "transform": [{"filter": "datum.p === 'none'"}], "mark": {"type": "point", "filled": false, "size": 144, "strokeWidth": 1, "color": "#222222", "opacity": 1},
    "encoding": {"x": {"field": "t", "type": "quantitative"}, "y": {"field": "s", "type": "quantitative"},
     "shape": {"field": "st", "type": "nominal", "scale": {"domain": ["Negative","Positive","Negative-censored","Positive-censored"], "range": ["M-1,0.75H-0.5M0,0.75H0.3M0.6,0.4V0M0.6,-0.4V-0.75H1.1M1.6,-0.3V0.1", "M-1,0.75H0.6V-0.75H1.8V-0.4", "M-0.5,-0.75L1.7,0.75M-0.5,0.75L1.7,-0.75", "M-1,0H2.2M0.4,-0.8V0.8"]},
      "legend": {"title": "MCT1 nuclear", "titleAnchor": "middle"}}}},
   {"data": {"name": "ann"}, "transform": [{"filter": "datum.p === 'B'"}], "mark": {"type": "text", "align": "left", "baseline": "alphabetic", "fontSize": 28, "fontWeight": "bold", "color": "#000000"}, "encoding": {"x": {"datum": -2.4}, "y": {"datum": -0.025}, "text": {"field": "lab"}}},
   {"data": {"name": "ann"}, "transform": [{"filter": "datum.p === 'B'"}], "mark": {"type": "text", "align": "left", "baseline": "alphabetic", "fontSize": 15.5, "fontStyle": "italic", "color": "#333333", "text": "p"}, "encoding": {"x": {"datum": 77.7}, "y": {"datum": 0.116}}},
   {"data": {"name": "ann"}, "transform": [{"filter": "datum.p === 'B'"}], "mark": {"type": "text", "align": "left", "baseline": "alphabetic", "fontSize": 15.5, "color": "#333333"}, "encoding": {"x": {"datum": 80.0}, "y": {"datum": 0.116}, "text": {"field": "pv"}}}
  ]},
  {"width": 417, "height": 445, "resolve": {"scale": {"shape": "independent"}, "legend": {"shape": "independent"}}, "layer": [
   {"data": {"name": "km"}, "transform": [{"filter": "datum.p === 'C'"}], "mark": {"type": "line", "interpolate": "step-after", "color": "#2b2b2b", "strokeWidth": 1.2},
    "encoding": {"x": {"field": "t", "type": "quantitative", "scale": {"domain": [-5.5, 105.5], "nice": false, "zero": false}, "axis": {"values": [0,20,40,60,80,100], "title": "Overall survival (months)"}},
     "y": {"field": "s", "type": "quantitative", "scale": {"domain": [-0.055, 1.055], "nice": false, "zero": false}, "axis": {"values": [0,0.2,0.4,0.6,0.8,1], "labelExpr": "replace(format(datum.value, '.1f'), '.', ',')", "title": "Cumulative Survival"}},
     "strokeDash": {"field": "g", "type": "nominal", "scale": {"domain": ["Negative","Positive"], "range": [[3,5],[1,0]]}, "legend": null}}},
   {"data": {"name": "km"}, "transform": [{"filter": "datum.p === 'C' && datum.st !== datum.g"}], "mark": {"type": "point", "filled": false, "size": 64, "strokeWidth": 1, "color": "#222222", "opacity": 1},
    "encoding": {"x": {"field": "t", "type": "quantitative"}, "y": {"field": "s", "type": "quantitative"},
     "shape": {"field": "st", "type": "nominal", "scale": {"domain": ["Negative-censored","Positive-censored"], "range": ["M-0.6,-0.5L0.6,0.5M-0.6,0.5L0.6,-0.5", "M-0.7,0H0.7M0,-1V1"]}, "legend": null}}},
   {"data": {"name": "km"}, "transform": [{"filter": "datum.p === 'none'"}], "mark": {"type": "point", "filled": false, "size": 144, "strokeWidth": 1, "color": "#222222", "opacity": 1},
    "encoding": {"x": {"field": "t", "type": "quantitative"}, "y": {"field": "s", "type": "quantitative"},
     "shape": {"field": "st", "type": "nominal", "scale": {"domain": ["Negative","Positive","Negative-censored","Positive-censored"], "range": ["M-1,0.75H-0.5M0,0.75H0.3M0.6,0.4V0M0.6,-0.4V-0.75H1.1M1.6,-0.3V0.1", "M-1,0.75H0.6V-0.75H1.8V-0.4", "M-0.5,-0.75L1.7,0.75M-0.5,0.75L1.7,-0.75", "M-1,0H2.2M0.4,-0.8V0.8"]},
      "legend": {"title": "\u2800MCT4", "titleAnchor": "start"}}}},
   {"data": {"name": "ann"}, "transform": [{"filter": "datum.p === 'C'"}], "mark": {"type": "text", "align": "left", "baseline": "alphabetic", "fontSize": 28, "fontWeight": "bold", "color": "#000000"}, "encoding": {"x": {"datum": -2.4}, "y": {"datum": -0.025}, "text": {"field": "lab"}}},
   {"data": {"name": "ann"}, "transform": [{"filter": "datum.p === 'C'"}], "mark": {"type": "text", "align": "left", "baseline": "alphabetic", "fontSize": 15.5, "fontStyle": "italic", "color": "#333333", "text": "p"}, "encoding": {"x": {"datum": 77.5}, "y": {"datum": 0.116}}},
   {"data": {"name": "ann"}, "transform": [{"filter": "datum.p === 'C'"}], "mark": {"type": "text", "align": "left", "baseline": "alphabetic", "fontSize": 15.5, "color": "#333333"}, "encoding": {"x": {"datum": 79.8}, "y": {"datum": 0.116}, "text": {"field": "pv"}}}
  ]},
  {"width": 417, "height": 445, "resolve": {"scale": {"shape": "independent"}, "legend": {"shape": "independent"}}, "layer": [
   {"data": {"name": "km"}, "transform": [{"filter": "datum.p === 'D'"}], "mark": {"type": "line", "interpolate": "step-after", "color": "#2b2b2b", "strokeWidth": 1.2},
    "encoding": {"x": {"field": "t", "type": "quantitative", "scale": {"domain": [-5.5, 105.5], "nice": false, "zero": false}, "axis": {"values": [0,20,40,60,80,100], "title": "Overall survival (months)"}},
     "y": {"field": "s", "type": "quantitative", "scale": {"domain": [-0.055, 1.055], "nice": false, "zero": false}, "axis": {"values": [0,0.2,0.4,0.6,0.8,1], "labelExpr": "replace(format(datum.value, '.1f'), '.', ',')", "title": "Cumulative Survival"}},
     "strokeDash": {"field": "g", "type": "nominal", "scale": {"domain": ["Negative","Positive"], "range": [[3,5],[1,0]]}, "legend": null}}},
   {"data": {"name": "km"}, "transform": [{"filter": "datum.p === 'D' && datum.st !== datum.g"}], "mark": {"type": "point", "filled": false, "size": 64, "strokeWidth": 1, "color": "#222222", "opacity": 1},
    "encoding": {"x": {"field": "t", "type": "quantitative"}, "y": {"field": "s", "type": "quantitative"},
     "shape": {"field": "st", "type": "nominal", "scale": {"domain": ["Negative-censored","Positive-censored"], "range": ["M-0.6,-0.5L0.6,0.5M-0.6,0.5L0.6,-0.5", "M-0.7,0H0.7M0,-1V1"]}, "legend": null}}},
   {"data": {"name": "km"}, "transform": [{"filter": "datum.p === 'none'"}], "mark": {"type": "point", "filled": false, "size": 144, "strokeWidth": 1, "color": "#222222", "opacity": 1},
    "encoding": {"x": {"field": "t", "type": "quantitative"}, "y": {"field": "s", "type": "quantitative"},
     "shape": {"field": "st", "type": "nominal", "scale": {"domain": ["Negative","Positive","Negative-censored","Positive-censored"], "range": ["M-1,0.75H-0.5M0,0.75H0.3M0.6,0.4V0M0.6,-0.4V-0.75H1.1M1.6,-0.3V0.1", "M-1,0.75H0.6V-0.75H1.8V-0.4", "M-0.5,-0.75L1.7,0.75M-0.5,0.75L1.7,-0.75", "M-1,0H2.2M0.4,-0.8V0.8"]},
      "legend": {"title": "CD147", "titleAnchor": "start"}}}},
   {"data": {"name": "ann"}, "transform": [{"filter": "datum.p === 'D'"}], "mark": {"type": "text", "align": "left", "baseline": "alphabetic", "fontSize": 28, "fontWeight": "bold", "color": "#000000"}, "encoding": {"x": {"datum": -2.4}, "y": {"datum": -0.025}, "text": {"field": "lab"}}},
   {"data": {"name": "ann"}, "transform": [{"filter": "datum.p === 'D'"}], "mark": {"type": "text", "align": "left", "baseline": "alphabetic", "fontSize": 15.5, "fontStyle": "italic", "color": "#333333", "text": "p"}, "encoding": {"x": {"datum": 77.3}, "y": {"datum": 0.116}}},
   {"data": {"name": "ann"}, "transform": [{"filter": "datum.p === 'D'"}], "mark": {"type": "text", "align": "left", "baseline": "alphabetic", "fontSize": 15.5, "color": "#333333"}, "encoding": {"x": {"datum": 79.6}, "y": {"datum": 0.116}, "text": {"field": "pv"}}}
  ]},
  {"width": 417, "height": 445, "resolve": {"scale": {"shape": "independent"}, "legend": {"shape": "independent"}}, "layer": [
   {"data": {"name": "km"}, "transform": [{"filter": "datum.p === 'E'"}], "mark": {"type": "line", "interpolate": "step-after", "color": "#2b2b2b", "strokeWidth": 1.2},
    "encoding": {"x": {"field": "t", "type": "quantitative", "scale": {"domain": [-5.5, 105.5], "nice": false, "zero": false}, "axis": {"values": [0,20,40,60,80,100], "title": "Overall survival (months)"}},
     "y": {"field": "s", "type": "quantitative", "scale": {"domain": [-0.055, 1.055], "nice": false, "zero": false}, "axis": {"values": [0,0.2,0.4,0.6,0.8,1], "labelExpr": "replace(format(datum.value, '.1f'), '.', ',')", "title": "Cumulative Survival"}},
     "strokeDash": {"field": "g", "type": "nominal", "scale": {"domain": ["Negative","Positive"], "range": [[3,5],[1,0]]}, "legend": null}}},
   {"data": {"name": "km"}, "transform": [{"filter": "datum.p === 'E' && datum.st !== datum.g"}], "mark": {"type": "point", "filled": false, "size": 64, "strokeWidth": 1, "color": "#222222", "opacity": 1},
    "encoding": {"x": {"field": "t", "type": "quantitative"}, "y": {"field": "s", "type": "quantitative"},
     "shape": {"field": "st", "type": "nominal", "scale": {"domain": ["Negative-censored","Positive-censored"], "range": ["M-0.6,-0.5L0.6,0.5M-0.6,0.5L0.6,-0.5", "M-0.7,0H0.7M0,-1V1"]}, "legend": null}}},
   {"data": {"name": "km"}, "transform": [{"filter": "datum.p === 'none'"}], "mark": {"type": "point", "filled": false, "size": 144, "strokeWidth": 1, "color": "#222222", "opacity": 1},
    "encoding": {"x": {"field": "t", "type": "quantitative"}, "y": {"field": "s", "type": "quantitative"},
     "shape": {"field": "st", "type": "nominal", "scale": {"domain": ["Negative","Positive","Negative-censored","Positive-censored"], "range": ["M-1,0.75H-0.5M0,0.75H0.3M0.6,0.4V0M0.6,-0.4V-0.75H1.1M1.6,-0.3V0.1", "M-1,0.75H0.6V-0.75H1.8V-0.4", "M-0.5,-0.75L1.7,0.75M-0.5,0.75L1.7,-0.75", "M-1,0H2.2M0.4,-0.8V0.8"]},
      "legend": {"title": "MCT1 & CD147", "titleAnchor": "middle"}}}},
   {"data": {"name": "ann"}, "transform": [{"filter": "datum.p === 'E'"}], "mark": {"type": "text", "align": "left", "baseline": "alphabetic", "fontSize": 28, "fontWeight": "bold", "color": "#000000"}, "encoding": {"x": {"datum": -2.4}, "y": {"datum": -0.025}, "text": {"field": "lab"}}},
   {"data": {"name": "ann"}, "transform": [{"filter": "datum.p === 'E'"}], "mark": {"type": "text", "align": "left", "baseline": "alphabetic", "fontSize": 15.5, "fontStyle": "italic", "color": "#333333", "text": "p"}, "encoding": {"x": {"datum": 77.2}, "y": {"datum": 0.116}}},
   {"data": {"name": "ann"}, "transform": [{"filter": "datum.p === 'E'"}], "mark": {"type": "text", "align": "left", "baseline": "alphabetic", "fontSize": 15.5, "color": "#333333"}, "encoding": {"x": {"datum": 79.5}, "y": {"datum": 0.116}, "text": {"field": "pv"}}}
  ]},
  {"width": 417, "height": 445, "resolve": {"scale": {"shape": "independent"}, "legend": {"shape": "independent"}}, "layer": [
   {"data": {"name": "km"}, "transform": [{"filter": "datum.p === 'F'"}], "mark": {"type": "line", "interpolate": "step-after", "color": "#2b2b2b", "strokeWidth": 1.2},
    "encoding": {"x": {"field": "t", "type": "quantitative", "scale": {"domain": [-5.5, 105.5], "nice": false, "zero": false}, "axis": {"values": [0,20,40,60,80,100], "title": "Overall survival (months)"}},
     "y": {"field": "s", "type": "quantitative", "scale": {"domain": [-0.055, 1.055], "nice": false, "zero": false}, "axis": {"values": [0,0.2,0.4,0.6,0.8,1], "labelExpr": "replace(format(datum.value, '.1f'), '.', ',')", "title": "Cumulative Survival"}},
     "strokeDash": {"field": "g", "type": "nominal", "scale": {"domain": ["Negative","Positive"], "range": [[3,5],[1,0]]}, "legend": null}}},
   {"data": {"name": "km"}, "transform": [{"filter": "datum.p === 'F' && datum.st !== datum.g"}], "mark": {"type": "point", "filled": false, "size": 64, "strokeWidth": 1, "color": "#222222", "opacity": 1},
    "encoding": {"x": {"field": "t", "type": "quantitative"}, "y": {"field": "s", "type": "quantitative"},
     "shape": {"field": "st", "type": "nominal", "scale": {"domain": ["Negative-censored","Positive-censored"], "range": ["M-0.6,-0.5L0.6,0.5M-0.6,0.5L0.6,-0.5", "M-0.7,0H0.7M0,-1V1"]}, "legend": null}}},
   {"data": {"name": "km"}, "transform": [{"filter": "datum.p === 'none'"}], "mark": {"type": "point", "filled": false, "size": 144, "strokeWidth": 1, "color": "#222222", "opacity": 1},
    "encoding": {"x": {"field": "t", "type": "quantitative"}, "y": {"field": "s", "type": "quantitative"},
     "shape": {"field": "st", "type": "nominal", "scale": {"domain": ["Negative","Positive","Negative-censored","Positive-censored"], "range": ["M-1,0.75H-0.5M0,0.75H0.3M0.6,0.4V0M0.6,-0.4V-0.75H1.1M1.6,-0.3V0.1", "M-1,0.75H0.6V-0.75H1.8V-0.4", "M-0.5,-0.75L1.7,0.75M-0.5,0.75L1.7,-0.75", "M-1,0H2.2M0.4,-0.8V0.8"]},
      "legend": {"title": "MCT4 & CD147", "titleAnchor": "middle"}}}},
   {"data": {"name": "ann"}, "transform": [{"filter": "datum.p === 'F'"}], "mark": {"type": "text", "align": "left", "baseline": "alphabetic", "fontSize": 28, "fontWeight": "bold", "color": "#000000"}, "encoding": {"x": {"datum": -2.4}, "y": {"datum": -0.025}, "text": {"field": "lab"}}},
   {"data": {"name": "ann"}, "transform": [{"filter": "datum.p === 'F'"}], "mark": {"type": "text", "align": "left", "baseline": "alphabetic", "fontSize": 15.5, "fontStyle": "italic", "color": "#333333", "text": "p"}, "encoding": {"x": {"datum": 77.2}, "y": {"datum": 0.116}}},
   {"data": {"name": "ann"}, "transform": [{"filter": "datum.p === 'F'"}], "mark": {"type": "text", "align": "left", "baseline": "alphabetic", "fontSize": 15.5, "color": "#333333"}, "encoding": {"x": {"datum": 79.5}, "y": {"datum": 0.116}, "text": {"field": "pv"}}}
  ]}
]
}
